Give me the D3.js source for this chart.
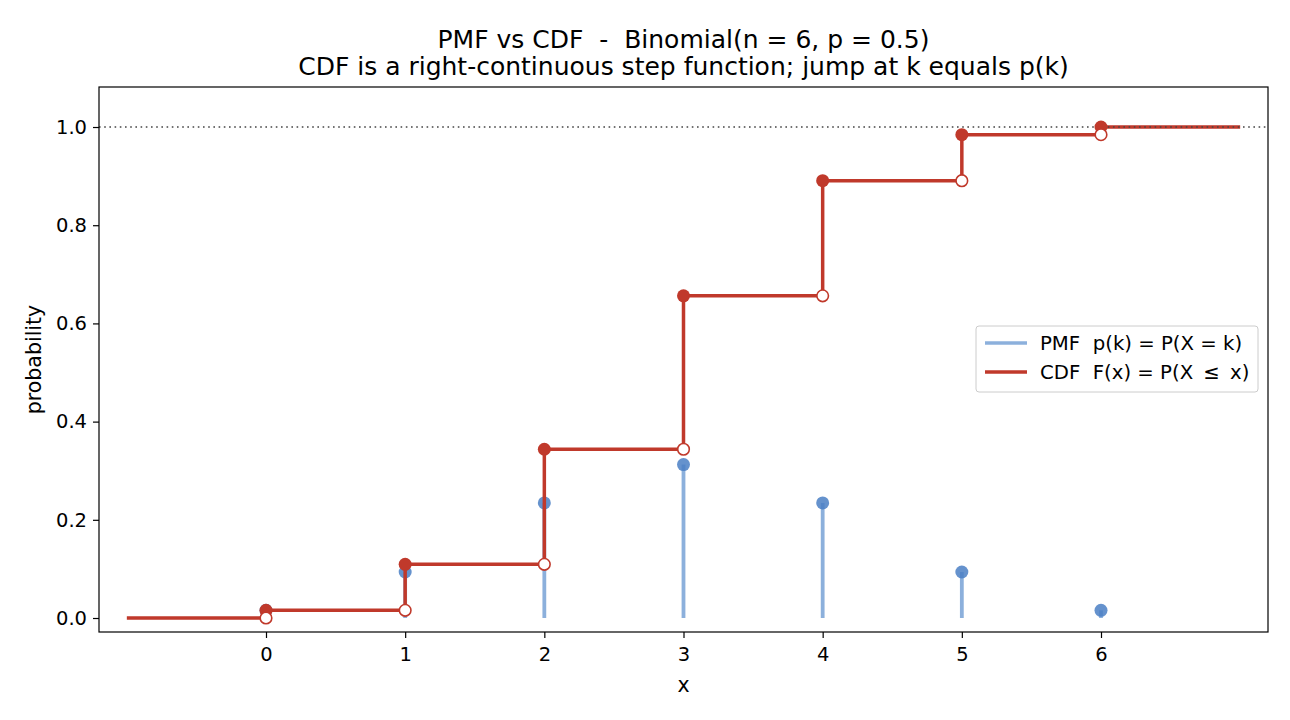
<!DOCTYPE html>
<html><head><meta charset="utf-8">
<script src="https://cdn.jsdelivr.net/npm/d3@7"></script>
<style>body{margin:0;background:#fff;} text{font-family:"DejaVu Sans",sans-serif;white-space:pre;}</style>
</head><body><svg id="c" width="1290" height="720"></svg>
<script>
const ks = [0,1,2,3,4,5,6];
const pmf = [0.015625,0.09375,0.234375,0.3125,0.234375,0.09375,0.015625];
const cdf = [0.015625,0.109375,0.34375,0.65625,0.890625,0.984375,1.0];
const xTicks = [0,1,2,3,4,5,6];
const yTicks = [0,0.2,0.4,0.6,0.8,1.0];
const titleLines = ["PMF vs CDF  -  Binomial(n = 6, p = 0.5)","CDF is a right-continuous step function; jump at k equals p(k)"];
const legendLabels = ["PMF  p(k) = P(X = k)","CDF  F(x) = P(X \u2009\u2264\u2009 x)"];

const svg = d3.select("#c");
const L=99,R=1268,T=87,B=632;
const x = d3.scaleLinear().domain([-1.2,7.2]).range([L,R]);
const y = d3.scaleLinear().domain([-0.0285,1.0815]).range([B,T]);
const red="#c0392b", stemC="#8cb0dc", dotC="#4a7fc4";

// title
svg.selectAll(".title").data(titleLines).enter().append("text")
  .attr("x",(L+R)/2).attr("y",(d,i)=>48+i*27).attr("text-anchor","middle")
  .attr("font-size",25).attr("fill","#000").text(d=>d);

const g = svg.append("g");
// PMF stems
g.selectAll(".stem").data(ks).enter().append("line")
  .attr("x1",d=>x(d)).attr("x2",d=>x(d)).attr("y1",y(0)).attr("y2",(d,i)=>y(pmf[i]))
  .attr("stroke",stemC).attr("stroke-width",3.8);
g.selectAll(".pdot").data(ks).enter().append("circle")
  .attr("cx",d=>x(d)).attr("cy",(d,i)=>y(pmf[i])).attr("r",6.5)
  .attr("fill",dotC).attr("fill-opacity",0.85);

// CDF step
const stepPts=[[-1,0]];
ks.forEach((k,i)=>{stepPts.push([k,i===0?0:cdf[i-1]]);stepPts.push([k,cdf[i]]);});
stepPts.push([7,1]);
g.append("path").datum(stepPts)
  .attr("d",d3.line().x(d=>x(d[0])).y(d=>y(d[1])))
  .attr("fill","none").attr("stroke",red).attr("stroke-width",3.5);

// reference line at 1
g.append("line").attr("x1",L).attr("x2",R).attr("y1",y(1)).attr("y2",y(1))
  .attr("stroke","#444").attr("stroke-width",1.6).attr("stroke-dasharray","1.6,3.6");

g.selectAll(".fdot").data(ks).enter().append("circle")
  .attr("cx",d=>x(d)).attr("cy",(d,i)=>y(cdf[i])).attr("r",6.5).attr("fill",red);
g.selectAll(".odot").data(ks).enter().append("circle")
  .attr("cx",d=>x(d)).attr("cy",(d,i)=>y(i===0?0:cdf[i-1])).attr("r",5.8)
  .attr("fill","#fff").attr("stroke",red).attr("stroke-width",1.6);

// axes
const xa = svg.append("g").attr("transform",`translate(0,${B})`)
  .call(d3.axisBottom(x).tickValues(xTicks).tickFormat(d3.format("d")).tickSizeOuter(0).tickSize(6).tickPadding(6));
const ya = svg.append("g").attr("transform",`translate(${L},0)`)
  .call(d3.axisLeft(y).tickValues(yTicks).tickFormat(d3.format(".1f")).tickSizeOuter(0).tickSize(6).tickPadding(6));
[xa,ya].forEach(a=>{a.select(".domain").remove();a.selectAll("text").attr("font-size",19.5).attr("fill","#000").style("font-family","DejaVu Sans");a.selectAll("line").attr("stroke","#000").attr("stroke-width",1.2);});
xa.selectAll("text").attr("dy","0.85em");
svg.append("rect").attr("x",L).attr("y",T).attr("width",R-L).attr("height",B-T)
  .attr("fill","none").attr("stroke","#000").attr("stroke-width",1.2);

svg.append("text").attr("x",(L+R)/2).attr("y",692).attr("text-anchor","middle").attr("font-size",20.5).text("x");
svg.append("text").attr("transform",`translate(41,${(T+B)/2}) rotate(-90)`).attr("text-anchor","middle").attr("font-size",20.5).text("probability");

// legend
const lg = svg.append("g").attr("transform","translate(976,326)");
lg.append("rect").attr("width",282).attr("height",66).attr("rx",3).attr("fill","#fff").attr("fill-opacity",0.8).attr("stroke","#ccc");
const lc=[stemC,red];
legendLabels.forEach((t,i)=>{
  lg.append("line").attr("x1",9).attr("x2",51).attr("y1",17+i*29).attr("y2",17+i*29).attr("stroke",lc[i]).attr("stroke-width",3.5);
  lg.append("text").attr("x",64).attr("y",24+i*29).attr("font-size",19.7).text(t);
});
</script></body></html>
